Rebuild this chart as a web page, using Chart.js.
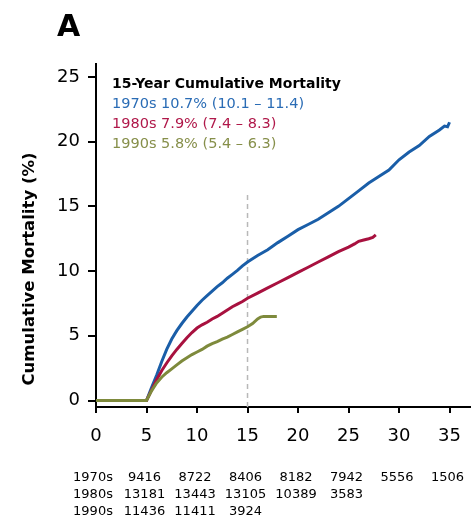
<!DOCTYPE html>
<html>
<head>
<meta charset="utf-8">
<script src="https://cdn.jsdelivr.net/npm/chart.js@4.4.1/dist/chart.umd.min.js"></script>
<style>
  html, body { margin: 0; padding: 0; background: #fff; }
</style>
</head>
<body>
<canvas id="km" width="474" height="518"></canvas>
<script>
// follow-up (years) and cumulative mortality (%) for each decade cohort
const yrs70 = [0, 5, 5.5, 6, 6.5, 7, 7.5, 8, 8.5, 9, 9.5, 10, 10.5, 11, 11.5, 12, 12.5, 13, 13.5, 14, 14.5, 15,
    16, 17, 18, 19, 20, 21, 22, 23, 24, 25, 26, 27, 28, 29, 30, 31, 32, 33, 34, 34.5, 34.8, 35]
const mort70 = [0, 0, 1.0, 1.95, 3.0, 3.95, 4.75, 5.4, 5.95, 6.45, 6.9, 7.35, 7.75, 8.1, 8.45, 8.8, 9.1, 9.45, 9.75, 10.05, 10.4, 10.7,
    11.2, 11.65, 12.2, 12.7, 13.2, 13.6, 14.0, 14.5, 15.0, 15.6, 16.2, 16.8, 17.3, 17.8, 18.6, 19.2, 19.7, 20.4, 20.9, 21.2, 21.15, 21.5]

const yrs80 = [0, 5, 5.5, 6, 6.5, 7, 7.5, 8, 8.5, 9, 9.5, 10, 10.5, 11, 11.5, 12, 12.5, 13, 13.5, 14, 14.5, 15,
    16, 17, 18, 19, 20, 21, 22, 23, 24, 25, 25.6, 26, 26.5, 27, 27.4, 27.7]
const mort80 = [0, 0, 0.8, 1.6, 2.3, 2.9, 3.45, 3.95, 4.4, 4.85, 5.25, 5.6, 5.85, 6.05, 6.3, 6.5, 6.75, 7.0, 7.25, 7.45, 7.65, 7.9,
    8.3, 8.7, 9.1, 9.5, 9.9, 10.3, 10.7, 11.1, 11.5, 11.85, 12.1, 12.3, 12.4, 12.5, 12.6, 12.8]

const yrs90 = [0, 5, 5.5, 6, 6.5, 7, 7.5, 8, 8.5, 9, 9.5, 10, 10.5, 11, 11.5, 12, 12.5, 13, 13.5, 14, 14.5, 15,
    15.5, 16, 16.3, 16.6, 17.9]
const mort90 = [0, 0, 0.75, 1.35, 1.8, 2.15, 2.45, 2.75, 3.05, 3.3, 3.55, 3.75, 3.95, 4.2, 4.4, 4.55, 4.75, 4.9, 5.1, 5.3, 5.5, 5.7,
    5.95, 6.3, 6.45, 6.5, 6.5]

const decades = ["1970s", "1980s", "1990s"]
const summaries = ["10.7% (10.1 \u2013 11.4)", "7.9% (7.4 \u2013 8.3)", "5.8% (5.4 \u2013 6.3)"]
const legendTitle = "15-Year Cumulative Mortality"
const panelLetter = "A"
const yTitle = "Cumulative Mortality (%)"

const xTicks = [0, 5, 10, 15, 20, 25, 30, 35]
const yTicks = [0, 5, 10, 15, 20, 25]

// number at risk
const riskYears = [5, 10, 15, 20, 25, 30, 35]
const risk70 = [9416, 8722, 8406, 8182, 7942, 5556, 1506]
const risk80 = [13181, 13443, 13105, 10389, 3583]
const risk90 = [11436, 11411, 3924]

// 15-year landmark
const landmarkX = [15, 15]
const landmarkY = [-0.5, 15.9]

const colors = ["#1a5ea8", "#a8113f", "#7e8a3c"]
const textColors = ["#2a6cb5", "#b0184a", "#868f4a"]
const FONT = "'DejaVu Sans', 'Liberation Sans', Arial, sans-serif"

const pts = (xs, ys) => xs.map((x, i) => ({ x: x, y: ys[i] }))

const extras = {
    id: "extras",
    afterDraw (chart) {
        const ctx = chart.ctx
        const xs = chart.scales.x
        ctx.save()
        ctx.textBaseline = "alphabetic"

        ctx.fillStyle = "#000"
        ctx.font = "bold 30px " + FONT
        ctx.textAlign = "left"
        ctx.fillText(panelLetter, 57, 36)

        // legend block
        ctx.font = "bold 14px " + FONT
        ctx.fillText(legendTitle, 112, 88)
        ctx.font = "14.5px " + FONT
        decades.forEach((d, i) => {
            ctx.fillStyle = textColors[i]
            ctx.fillText(d + " " + summaries[i], 112, 107.5 + i * 20)
        })

        // y title
        ctx.fillStyle = "#000"
        ctx.font = "bold 16.5px " + FONT
        ctx.translate(34, 269)
        ctx.rotate(-Math.PI / 2)
        ctx.textAlign = "center"
        ctx.fillText(yTitle, 0, 0)
        ctx.setTransform(1, 0, 0, 1, 0, 0)

        // number at risk table
        ctx.font = "13px " + FONT
        ctx.textAlign = "center"
        const rows = [risk70, risk80, risk90]
        rows.forEach((row, r) => {
            const y = 481 + r * 17
            ctx.fillText(decades[r], xs.getPixelForValue(0) - 3, y)
            row.forEach((n, i) => {
                ctx.fillText(String(n), xs.getPixelForValue(riskYears[i]) - 2, y)
            })
        })
        ctx.restore()
    }
}

const lineSet = (label, data, color) => ({
    label: label,
    data: data,
    borderColor: color,
    borderWidth: 3,
    pointRadius: 0,
    tension: 0,
    fill: false
})

const chart = new Chart(document.getElementById("km").getContext("2d"), {
    type: "line",
    data: {
        datasets: [
            lineSet(decades[2], pts(yrs90, mort90), colors[2]),
            lineSet(decades[1], pts(yrs80, mort80), colors[1]),
            lineSet(decades[0], pts(yrs70, mort70), colors[0]),
            {
                label: "15y",
                data: pts(landmarkX, landmarkY),
                borderColor: "#b8b8b8",
                borderWidth: 1.5,
                borderDash: [5, 4],
                pointRadius: 0
            }
        ]
    },
    options: {
        responsive: false,
        animation: false,
        devicePixelRatio: 1,
        layout: { padding: { top: 64, right: 0, bottom: 0, left: 0 } },
        plugins: { legend: { display: false }, tooltip: { enabled: false } },
        scales: {
            x: {
                type: "linear",
                min: 0,
                max: 37,
                afterBuildTicks: s => { s.ticks = xTicks.map(v => ({ value: v })) },
                afterFit: s => { s.height = 111 },
                border: { display: true, color: "#000", width: 2 },
                grid: { drawOnChartArea: false, drawTicks: true, tickLength: 6, color: "#000", lineWidth: 2 },
                ticks: { color: "#000", font: { family: FONT, size: 18 }, padding: 13, maxRotation: 0, autoSkip: false }
            },
            y: {
                type: "linear",
                min: -0.5,
                max: 26,
                afterBuildTicks: s => { s.ticks = yTicks.map(v => ({ value: v })) },
                afterFit: s => { s.width = 96 },
                border: { display: true, color: "#000", width: 2 },
                grid: { drawOnChartArea: false, drawTicks: true, tickLength: 8, color: "#000", lineWidth: 2 },
                ticks: { color: "#000", font: { family: FONT, size: 18 }, padding: 8 }
            }
        }
    },
    plugins: [extras]
})
</script>
</body>
</html>
